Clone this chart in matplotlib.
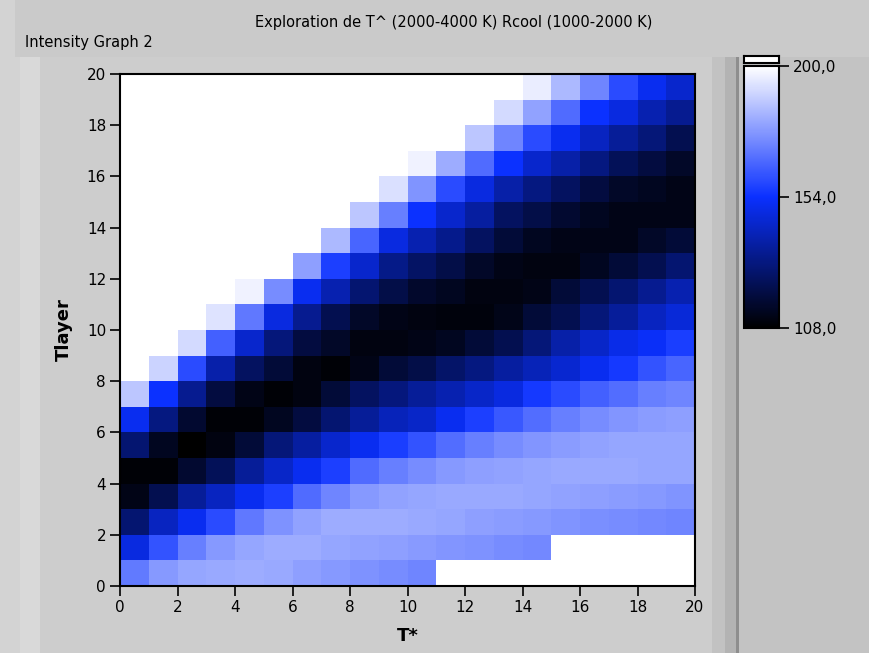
import numpy as np
import matplotlib
matplotlib.use("Agg")
import matplotlib.pyplot as plt
from matplotlib.colors import LinearSegmentedColormap
from matplotlib.patches import Rectangle

W, H = 870, 653
N = None

# T* sur l'axe x, Tlayer sur l'axe y (cellules 0..19)
t_star = list(range(21))
t_layer = list(range(21))
x_ticks = [0, 2, 4, 6, 8, 10, 12, 14, 16, 18, 20]
y_ticks = [0, 2, 4, 6, 8, 10, 12, 14, 16, 18, 20]
cbar_ticks = [108.0, 154.0, 200.0]
vmin, vmax = 108.0, 200.0

# valeurs par rangee Tlayer, de haut (19) en bas (0); None = hors echelle (blanc)
row19 = [N]*14 + [195.9, 184.3, 173.0, 159.8, 151.3, 144.8]
row18 = [N]*13 + [191.5, 179.3, 167.0, 154.0, 148.4, 139.8, 134.0]
row17 = [N]*12 + [187.2, 173.0, 159.8, 151.3, 142.6, 135.5, 129.6, 122.4]
row16 = [N]*10 + [197.0, 181.5, 167.0, 154.0, 144.8, 138.3, 131.1, 123.9, 119.5, 115.2]
row15 = [N]*9 + [193.0, 176.0, 159.8, 148.4, 138.3, 131.1, 125.3, 119.5, 115.2, 113.8, 112.3]
row14 = [N]*8 + [187.2, 171.3, 154.0, 144.8, 136.9, 125.3, 121.0, 116.7, 113.8, 112.3, 112.3, 112.3]
row13 = [N]*7 + [184.3, 165.5, 148.4, 139.8, 133.3, 125.3, 118.1, 113.8, 112.3, 112.3, 112.3, 115.2, 118.1]
row12 = [N]*6 + [178.5, 157.5, 144.8, 132.5, 126.0, 121.0, 115.2, 112.3, 110.9, 110.9, 113.8, 118.1, 122.4, 128.2]
row11 = [N]*4 + [197.0, 174.2, 151.3, 139.8, 128.2, 121.0, 116.0, 113.8, 110.9, 110.9, 112.3, 118.1, 122.4, 128.2, 134.0, 139.8]
row10 = [N]*3 + [193.7, 169.9, 148.4, 134.0, 122.4, 115.2, 112.3, 111.2, 110.2, 110.5, 112.5, 118.1, 122.4, 129.6, 135.8, 142.6, 147.0]
row9 = [N, N, 191.5, 164.5, 144.8, 130.0, 119.5, 115.2, 110.9, 110.9, 112.3, 113.8, 118.1, 122.4, 129.6, 138.3, 144.1, 149.9, 152.7, 156.9]
row8 = [N, 190.1, 159.8, 138.6, 125.3, 118.1, 110.9, 109.4, 112.3, 118.1, 121.0, 126.8, 131.1, 136.9, 141.2, 145.5, 151.3, 156.0, 161.6, 165.5]
row7 = [187.2, 154.0, 134.0, 119.5, 112.3, 109.4, 110.9, 118.1, 125.3, 130.4, 135.5, 139.8, 144.1, 148.4, 156.0, 159.8, 164.5, 167.4, 171.3, 173.0]
row6 = [151.3, 131.1, 116.7, 109.4, 109.4, 113.8, 119.5, 128.2, 135.5, 141.5, 144.1, 151.3, 157.5, 162.7, 167.4, 171.3, 174.2, 176.4, 177.8, 178.5]
row5 = [128.2, 113.8, 108.0, 110.9, 118.1, 129.6, 136.9, 144.8, 151.3, 156.9, 161.6, 167.4, 171.3, 174.2, 176.4, 177.8, 179.3, 180.0, 180.0, 180.0]
row4 = [109.4, 109.4, 116.7, 123.9, 135.5, 144.1, 151.3, 157.5, 167.0, 171.3, 174.2, 177.0, 178.5, 179.3, 180.0, 180.7, 180.7, 180.7, 180.0, 180.0]
row3 = [112.3, 122.4, 135.5, 142.6, 151.3, 157.5, 167.0, 173.0, 177.0, 179.3, 180.0, 180.7, 180.7, 180.7, 180.0, 179.3, 178.5, 177.8, 177.1, 176.0]
row2 = [128.2, 142.6, 151.3, 159.8, 169.9, 175.7, 179.3, 181.5, 181.5, 181.5, 180.7, 180.0, 178.5, 177.8, 177.1, 176.0, 175.0, 174.2, 173.5, 172.8]
row1 = [148.4, 161.6, 171.3, 177.0, 180.0, 181.5, 181.5, 180.0, 179.3, 178.5, 177.5, 176.4, 175.7, 174.2, 173.5] + [N]*5
row0 = [170.2, 177.0, 180.0, 180.7, 181.5, 180.7, 178.5, 177.0, 175.7, 174.2, 173.0] + [N]*9

rows = [row0, row1, row2, row3, row4, row5, row6, row7, row8, row9,
        row10, row11, row12, row13, row14, row15, row16, row17, row18, row19]
Z = np.array(rows, dtype=float)


def px(x0, y0, x1, y1):
    # rectangle en pixels (haut-gauche origine) -> fraction de figure
    return [x0 / W, 1 - y1 / H, (x1 - x0) / W, (y1 - y0) / H]


cmap = LinearSegmentedColormap.from_list("labview", [(0.0, "black"), (0.5, "#0a30ff"), (1.0, "white")])
cmap.set_bad("white")
cmap.set_over("white")

fig = plt.figure(figsize=(W / 100, H / 100), dpi=100, facecolor="#c3c3c3")

# fond du panneau LabVIEW
for rect, col in [((0, 0, 20, H), "#d3d3d3"),
                  ((15, 0, W, 57), "#cacaca"),
                  ((20, 57, 738, H), "#cdcdcd"),
                  ((20, 57, 40, H), "#d9d9d9"),
                  ((712, 57, 725, H), "#c2c2c2"),
                  ((725, 57, 736, H), "#b3b3b3"),
                  ((736, 57, 739, H), "#8e8e8e")]:
    b = px(*rect)
    fig.add_artist(Rectangle((b[0], b[1]), b[2], b[3], transform=fig.transFigure,
                             facecolor=col, edgecolor="none", zorder=-10))

ax = fig.add_axes(px(120, 74, 695, 586))
ax.set_facecolor("white")
mesh = ax.pcolormesh(t_star, t_layer, Z, cmap=cmap, vmin=vmin, vmax=vmax)
ax.set_xlim(0, 20)
ax.set_ylim(0, 20)
ax.set_xticks(x_ticks)
ax.set_yticks(y_ticks)
ax.tick_params(direction="out", length=7, width=1.2, labelsize=11, pad=3, colors="black")
for s in ax.spines.values():
    s.set_linewidth(1.5)
    s.set_color("black")
ax.set_xlabel("T*", fontsize=13, fontweight="bold", labelpad=9)
ax.set_ylabel("Tlayer", fontsize=13, fontweight="bold", labelpad=10)

# barre de couleur
cax = fig.add_axes(px(744, 66, 779, 328))
cb = fig.colorbar(mesh, cax=cax, ticks=cbar_ticks)
cb.ax.set_yticklabels([f"{v:.1f}".replace(".", ",") for v in cbar_ticks])
cb.ax.tick_params(direction="out", length=7, width=1.2, labelsize=11, pad=3)
cb.outline.set_linewidth(1.5)

# case de depassement (blanc) au-dessus de la barre
oax = fig.add_axes(px(744, 56, 779, 63))
oax.set_facecolor("white")
oax.set_xticks([])
oax.set_yticks([])
for s in oax.spines.values():
    s.set_linewidth(1.5)

fig.text(454 / W, 1 - 22 / H, "Exploration de T^ (2000-4000 K) Rcool (1000-2000 K)",
         ha="center", va="center", fontsize=10.5)
fig.text(25 / W, 1 - 42 / H, "Intensity Graph 2", ha="left", va="center", fontsize=10.5)

fig.savefig("out.png", dpi=100, facecolor=fig.get_facecolor())
